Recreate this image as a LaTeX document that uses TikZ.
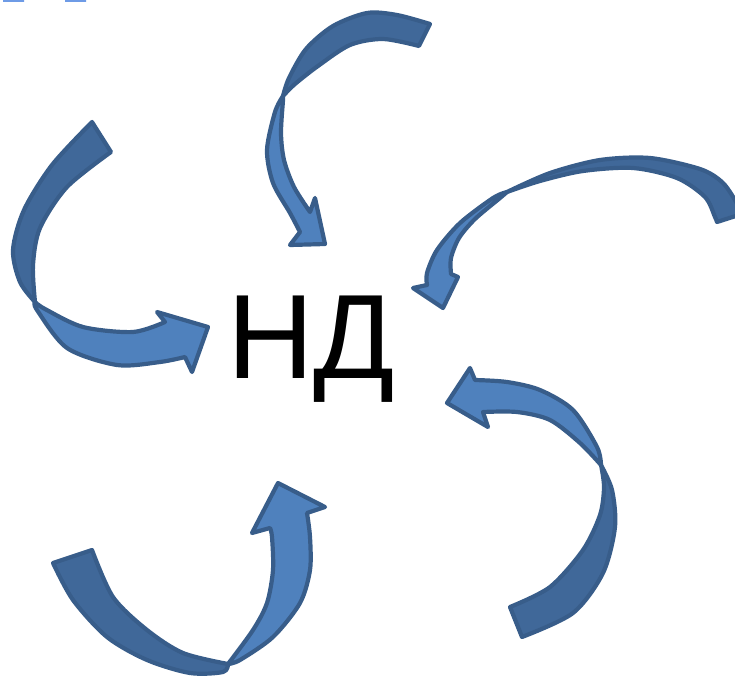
\documentclass[tikz,border=0pt]{standalone}
\usepackage{fontspec}
\setmainfont{Liberation Sans}
\definecolor{arrowblue}{HTML}{4F81BD}
\definecolor{arrowshade}{HTML}{406899}
\definecolor{arrowline}{HTML}{385D8A}
\definecolor{markblue}{HTML}{6E9BE6}
\begin{document}
\begin{tikzpicture}[x=1pt, y=-1pt, line join=round, line width=4.2pt]
	\tikzset{back side/.style={fill=arrowshade, draw=arrowline}, front side/.style={fill=arrowblue, draw=arrowline}}
	\useasboundingbox (0,0) rectangle (735,679);
	\clip (0,0) rectangle (735,679);
	\fill[markblue] (3,0) rectangle (24,2) (65,0) rectangle (86,2);
	% left
	\filldraw[back side] plot[smooth] coordinates {(92,122) (52,165) (24,210) (13,250) (20,282) (35,302)}
		-- plot[smooth] coordinates {(35,302) (33,265) (40,228) (67,187) (111,152)} -- cycle;
	\filldraw[front side] plot[smooth] coordinates {(35,302) (45,309) (83,327) (133,332) (165,322)}
		-- (157,312) -- (208,327) -- (192,372) -- (185,357)
		-- plot[smooth] coordinates {(185,357) (160,362) (117,365) (67,348) (37,310) (35,302)} -- cycle;
	% top
	\filldraw[back side] plot[smooth] coordinates {(430,24) (397,15) (367,13) (333,26) (306,49) (289,78) (283,96)}
		-- plot[smooth] coordinates {(283,96) (295,84) (318,66) (350,45) (383,39) (419,46)} -- cycle;
	\filldraw[front side] plot[smooth] coordinates {(283,96) (275,112) (267,150) (273,183) (290,213) (300,232)}
		-- (290,245) -- (325,244) -- (315,198) -- (310,212)
		-- plot[smooth] coordinates {(310,212) (294,187) (284,160) (281,133) (283,100) (283,96)} -- cycle;
	% right top
	\filldraw[back side] plot[smooth] coordinates {(742,214) (735,200) (722,182) (700,169) (650,158) (600,160) (550,173) (507,192)}
		-- plot[smooth] coordinates {(507,192) (540,181) (583,171) (633,168) (677,178) (705,197) (715,217) (717,222)} -- cycle;
	\filldraw[front side] plot[smooth] coordinates {(507,192) (493,198) (460,223) (437,250) (427,273) (427,285)}
		-- (413,288) -- (443,308) -- (458,277) -- (451,274)
		-- plot[smooth] coordinates {(451,274) (451,258) (459,238) (475,219) (500,198) (507,192)} -- cycle;
	% right bottom
	\filldraw[back side] plot[smooth] coordinates {(522,637) (573,613) (603,573) (615,527) (612,490) (601,465)}
		-- plot[smooth] coordinates {(601,465) (604,487) (600,515) (583,550) (550,587) (510,607)} -- cycle;
	\filldraw[front side] plot[smooth] coordinates {(601,465) (597,447) (573,410) (540,390) (507,382) (475,380)}
		-- (470,368) -- (447,403) -- (488,427) -- (483,412)
		-- plot[smooth] coordinates {(483,412) (517,412) (550,420) (580,443) (601,465)} -- cycle;
	% bottom
	\filldraw[back side] plot[smooth] coordinates {(53,563) (73,600) (107,637) (147,660) (190,673) (223,672) (228,664)}
		-- plot[smooth] coordinates {(228,664) (183,653) (147,630) (113,597) (92,550)} -- cycle;
	\filldraw[front side] plot[smooth] coordinates {(228,664) (253,630) (267,603) (273,570) (272,537) (270,528)}
		-- (252,533) -- (278,483) -- (325,507) -- (307,513)
		-- plot[smooth] coordinates {(307,513) (310,537) (310,570) (300,603) (273,637) (240,660) (228,664)} -- cycle;
	\node (nd) at (311,378) [anchor=base, inner sep=0pt, font=\fontsize{120}{130}\selectfont] {НД};
\end{tikzpicture}
\end{document}
